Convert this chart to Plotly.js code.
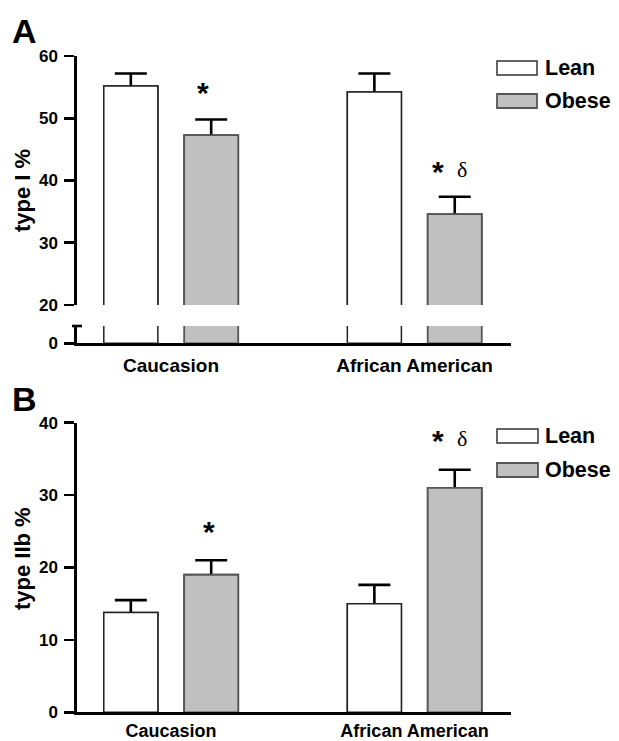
<!DOCTYPE html>
<html>
<head>
<meta charset="utf-8">
<script src="https://cdn.plot.ly/plotly-3.0.1.min.js"></script>
<style>html,body{margin:0;padding:0;background:#fff;}#chart{width:619px;height:741px;}</style>
</head>
<body>
<div id="chart"></div>
<script>
// ---- data ----
const categories = ["Caucasion", "African American"];
const seriesNames = ["Lean", "Obese"];
// Panel A: type I %
const typeI_lean = [55.2, 54.2];
const typeI_lean_err = [2.0, 3.0];
const typeI_obese = [47.3, 34.6];
const typeI_obese_err = [2.5, 2.8];
// Panel B: type IIb %
const typeIIb_lean = [13.8, 15.0];
const typeIIb_lean_err = [1.7, 2.6];
const typeIIb_obese = [19.0, 31.0];
const typeIIb_obese_err = [2.0, 2.5];
const tickA_upper = [20, 30, 40, 50, 60];
const tickA_lower = [0];
const tickB = [0, 10, 20, 30, 40];

// ---- styling ----
const W = 619, H = 741;
const px = v => v / W;
const py = v => 1 - v / H;
const FONT = "Liberation Sans, Arial, Helvetica, sans-serif";
const leanStyle = {color: "#ffffff", line: {color: "#222222", width: 1.5}};
const obeseStyle = {color: "#c0c0c0", line: {color: "#555555", width: 1.8}};
const BAR_W = 0.222;
const OFFSETS = [-0.276, 0.054];

function bar(i, y, err, xa, ya) {
  const t = {
    type: "bar", name: seriesNames[i], x: categories, y: y,
    xaxis: xa, yaxis: ya, marker: i === 0 ? leanStyle : obeseStyle, showlegend: false,
    width: BAR_W, offset: OFFSETS[i], hoverinfo: "skip"
  };
  if (err) {
    t.error_y = {type: "data", symmetric: true, array: err,
                 color: "#000", thickness: 2.6, width: 16};
  }
  return t;
}

const data = [
  // panel A upper: error bars first, then covering bars on top
  bar(0, typeI_lean, typeI_lean_err, "x", "y"),
  bar(1, typeI_obese, typeI_obese_err, "x", "y"),
  bar(0, typeI_lean, null, "x", "y"),
  bar(1, typeI_obese, null, "x", "y"),
  // panel A lower (broken axis stub)
  bar(0, typeI_lean, null, "x", "y2"),
  bar(1, typeI_obese, null, "x", "y2"),
  // panel B
  bar(0, typeIIb_lean, typeIIb_lean_err, "x2", "y3"),
  bar(1, typeIIb_obese, typeIIb_obese_err, "x2", "y3"),
  bar(0, typeIIb_lean, null, "x2", "y3"),
  bar(1, typeIIb_obese, null, "x2", "y3")
];

const xr = [-0.386, 1.396];
const tickfont = {family: FONT, size: 17, color: "#000", weight: 700};

function yax(domain, range, ticks) {
  return {domain: domain, range: range, tickvals: ticks, ticktext: ticks.map(String),
          showline: true, linecolor: "#000", linewidth: 2.6, ticks: "outside",
          ticklen: 10, tickwidth: 2.6, tickcolor: "#000", showgrid: false,
          zeroline: false, tickfont: tickfont, fixedrange: true, ticklabelstandoff: 3};
}
function xax(anchor, size, standoff) {
  return {domain: [px(77), px(511)], range: xr, type: "category", anchor: anchor,
          showline: true, linecolor: "#000", linewidth: 2.6, ticks: "",
          showgrid: false, zeroline: false, fixedrange: true,
          tickfont: {family: FONT, size: size, color: "#000", weight: 700},
          ticklabelstandoff: standoff};
}

const layout = {
  width: W, height: H,
  margin: {l: 0, r: 0, t: 0, b: 0},
  paper_bgcolor: "#fff", plot_bgcolor: "rgba(0,0,0,0)",
  barmode: "overlay",
  xaxis: xax("y2", 19, 3),
  xaxis2: xax("y3", 18, 0),
  yaxis: yax([py(305), py(56)], [20, 60], tickA_upper),
  yaxis2: yax([py(343.3), py(326)], [0, 2.8], tickA_lower),
  yaxis3: yax([py(712.3), py(422.7)], [0, 40], tickB),
  shapes: [
    // axis break cap
    {type: "line", xref: "paper", yref: "paper", x0: px(72), x1: px(82), y0: py(326), y1: py(326),
     line: {color: "#000", width: 2.6}},
    // legend A
    {type: "rect", xref: "paper", yref: "paper", x0: px(497), x1: px(537), y0: py(75), y1: py(61),
     fillcolor: leanStyle.color, line: {color: "#333", width: 1.5}},
    {type: "rect", xref: "paper", yref: "paper", x0: px(497), x1: px(537), y0: py(108), y1: py(94),
     fillcolor: obeseStyle.color, line: {color: "#555", width: 1.8}},
    // legend B
    {type: "rect", xref: "paper", yref: "paper", x0: px(497), x1: px(538), y0: py(443), y1: py(429),
     fillcolor: leanStyle.color, line: {color: "#333", width: 1.5}},
    {type: "rect", xref: "paper", yref: "paper", x0: px(497), x1: px(538), y0: py(477), y1: py(463),
     fillcolor: obeseStyle.color, line: {color: "#555", width: 1.8}}
  ],
  annotations: []
};

const ann = layout.annotations;
function txt(text, x, y, size, opts) {
  ann.push(Object.assign({text: text, xref: "paper", yref: "paper", x: px(x), y: py(y),
    showarrow: false, xanchor: "center", yanchor: "middle",
    font: {family: FONT, size: size, color: "#000", weight: 700}}, opts || {}));
}
// panel letters
txt("A", 24, 31, 34);
txt("B", 24, 399, 34);
// axis titles
txt("type I %", 22, 191, 22, {textangle: -90});
txt("type IIb %", 22, 559, 22, {textangle: -90});
// legend labels
txt(seriesNames[0], 543, 68, 21.5, {xanchor: "left"});
txt(seriesNames[1], 543, 101, 21.5, {xanchor: "left"});
txt(seriesNames[0], 543, 436, 21.5, {xanchor: "left"});
txt(seriesNames[1], 543, 470, 21.5, {xanchor: "left"});
// significance markers
const serif = {family: "Liberation Serif, Times New Roman, serif", size: 22, color: "#000"};
txt("*", 203, 93, 30);
txt("*", 438, 172, 30);
txt("δ", 462, 169, 22, {font: serif});
txt("*", 209, 531, 30);
txt("*", 438, 441, 30);
txt("δ", 462, 438, 22, {font: serif});

Plotly.newPlot("chart", data, layout, {staticPlot: true, displayModeBar: false});
</script>
</body>
</html>
